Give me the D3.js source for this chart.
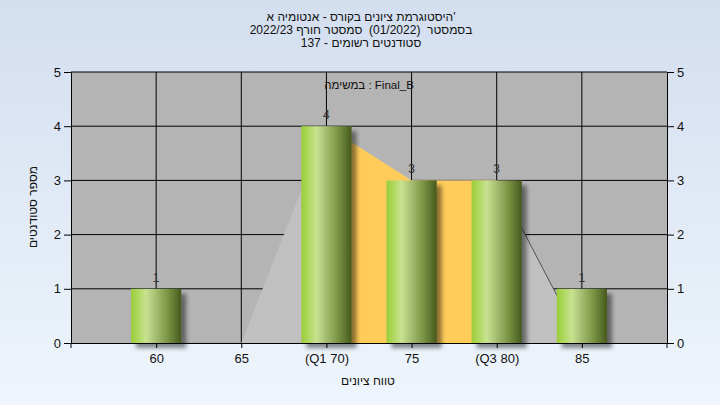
<!DOCTYPE html>
<html><head><meta charset="utf-8">
<script src="https://cdn.jsdelivr.net/npm/d3@7"></script>
<style>
html,body{margin:0;padding:0;}
svg{display:block;font-family:"Liberation Sans",Arial,sans-serif;}
text{white-space:pre;}
</style></head>
<body>
<svg id="chart" width="720" height="405"></svg>
<script>
// ---- data ----
const titleLines = ["היסטוגרמת ציונים בקורס - אנטומיה א'",
  "בסמסטר  (01/2022)  סמסטר חורף 2022/23",
  "סטודנטים רשומים - 137"];
const legendLabel = "במשימה : Final_B";
const xTitle = "טווח ציונים";
const yTitle = "מספר סטודנטים";
const grades = [60, 65, 70, 75, 80, 85];
const gradeLabels = ["60", "65", "(Q1 70)", "75", "(Q3 80)", "85"];
const counts = [1, 0, 4, 3, 3, 1];
const curveValues = [0, 0, 4, 3, 3, 0];
const q1 = 70, q3 = 80;
const yTicks = [0, 1, 2, 3, 4, 5];

const svg = d3.select("#chart");
const W = 720, H = 405;
const L = 71, R = 667, T = 72, B = 343;

const defs = svg.append("defs");
const bg = defs.append("linearGradient").attr("id","bg").attr("x1",0).attr("y1",0).attr("x2",0).attr("y2",1);
bg.append("stop").attr("offset",0).attr("stop-color","#d3deef");
bg.append("stop").attr("offset",1).attr("stop-color","#eef5fc");
const bar = defs.append("linearGradient").attr("id","barg").attr("x1",0).attr("y1",0).attr("x2",1).attr("y2",0);
[[0,"#9acd3a"],[0.1,"#a9d552"],[0.3,"#c7e291"],[0.5,"#a5bc70"],[0.72,"#7d9646"],[0.9,"#58702b"],[1,"#46581c"]]
  .forEach(([o,c]) => bar.append("stop").attr("offset",o).attr("stop-color",c));
const f = defs.append("filter").attr("id","shadow").attr("x","-20%").attr("y","-20%").attr("width","150%").attr("height","150%");
f.append("feGaussianBlur").attr("in","SourceAlpha").attr("stdDeviation",2).attr("result","b");
f.append("feOffset").attr("in","b").attr("dx",5).attr("dy",5).attr("result","o");
f.append("feComponentTransfer").attr("in","o").attr("result","s")
  .append("feFuncA").attr("type","linear").attr("slope",0.45);
const fm = f.append("feMerge");
fm.append("feMergeNode").attr("in","s");
fm.append("feMergeNode").attr("in","SourceGraphic");

svg.append("rect").attr("width",W).attr("height",H).attr("fill","url(#bg)");

const x = d3.scaleLinear().domain([55, 90]).range([L, R]);
const y = d3.scaleLinear().domain([0, 5]).range([B, T]);

// plot background
svg.append("rect").attr("x",L).attr("y",T).attr("width",R-L).attr("height",B-T).attr("fill","#b4b4b4");

// grid
const g = svg.append("g");
g.selectAll(".hg").data(yTicks.slice(1)).join("line")
  .attr("x1",L).attr("x2",R).attr("y1",d=>y(d)).attr("y2",d=>y(d)).attr("stroke","#000");
g.selectAll(".vg").data(grades).join("line")
  .attr("x1",d=>x(d)).attr("x2",d=>x(d)).attr("y1",T).attr("y2",B).attr("stroke","#000");

// area (curve)
const pts = grades.map((d,i)=>({g:d, v:curveValues[i]}));
const area = d3.area().x(d=>x(d.g)).y0(y(0)).y1(d=>y(d.v));
defs.append("clipPath").attr("id","qclip").append("rect")
  .attr("x",x(q1)).attr("y",T).attr("width",x(q3)-x(q1)).attr("height",B-T);
svg.append("path").datum(pts).attr("d",area).attr("fill","#c0c0c0");
svg.append("path").datum(pts).attr("d",area).attr("fill","#ffcc5a").attr("clip-path","url(#qclip)");
const line = d3.line().x(d=>x(d.g)).y(d=>y(d.v));
svg.append("path").datum(pts.slice(4,6)).attr("d",line).attr("fill","none").attr("stroke","#505050").attr("stroke-width",1);
svg.append("path").datum(pts.slice(0,2)).attr("d",line).attr("fill","none").attr("stroke","#9aa6b8").attr("stroke-width",1);

// bars
const bw = (x(65)-x(60))*0.59;
const data = grades.map((d,i)=>({g:d, c:counts[i]})).filter(d=>d.c>0);
svg.append("g").selectAll("rect").data(data).join("rect")
  .attr("x",d=>x(d.g)-bw/2).attr("y",d=>y(d.c)).attr("width",bw).attr("height",d=>y(0)-y(d.c))
  .attr("fill","url(#barg)").attr("filter","url(#shadow)");

// value labels
svg.append("g").selectAll("text").data(data).join("text")
  .attr("x",d=>x(d.g)).attr("y",d=>y(d.c)-7).attr("text-anchor","middle")
  .attr("font-size",12).attr("fill","#333").text(d=>d.c);

// frame / axes
const fmt = d3.format("d");
const axL = d3.axisLeft(y).tickValues(yTicks).tickFormat(fmt).tickSize(7).tickPadding(3).tickSizeOuter(0);
const axR = d3.axisRight(y).tickValues(yTicks).tickFormat(fmt).tickSize(7).tickPadding(3).tickSizeOuter(0);
const axB = d3.axisBottom(x).tickValues(grades).tickFormat((d,i)=>gradeLabels[i]).tickSize(5).tickPadding(6).tickSizeOuter(0);
function style(sel){
  sel.selectAll("text").attr("font-family","'Liberation Sans',Arial,sans-serif").attr("font-size",13).attr("fill","#111");
  sel.selectAll("line").attr("stroke","#000");
  sel.select(".domain").attr("stroke","#000");
}
svg.append("g").attr("transform",`translate(${L},0)`).call(axL).call(style);
svg.append("g").attr("transform",`translate(${R},0)`).call(axR).call(style);
svg.append("g").attr("transform",`translate(0,${B})`).call(axB).call(style);
svg.append("line").attr("x1",L).attr("x2",L).attr("y1",B).attr("y2",B+5).attr("stroke","#000");
svg.append("line").attr("x1",R).attr("x2",R).attr("y1",B).attr("y2",B+5).attr("stroke","#000");

// titles
const tY = [20.5, 33.5, 47];
titleLines.forEach((t,i)=>{
  svg.append("text").attr("x",361).attr("y",tY[i]).attr("text-anchor","middle")
    .attr("font-size",12).attr("fill","#111").text(t);
});
svg.append("text").attr("x",369).attr("y",89).attr("text-anchor","middle")
  .attr("font-size",11.5).attr("fill","#111").text(legendLabel);
svg.append("text").attr("x",368).attr("y",385).attr("text-anchor","middle")
  .attr("font-size",12).attr("fill","#111").text(xTitle);
svg.append("text").attr("transform","translate(37,207) rotate(-90)").attr("text-anchor","middle")
  .attr("font-size",12).attr("fill","#111").text(yTitle);
</script>
</body></html>
